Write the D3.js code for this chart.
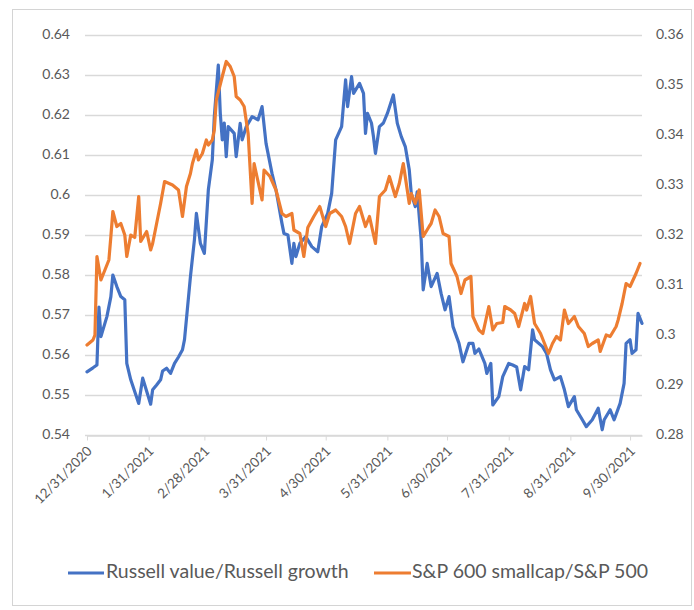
<!DOCTYPE html>
<html>
<head>
<meta charset="utf-8">
<script src="https://cdn.jsdelivr.net/npm/d3@7"></script>
<style>
  body { margin: 0; background: #fff; }
  svg { display: block; font-family: Lato, "Open Sans", "DejaVu Sans", sans-serif; }
</style>
</head>
<body>
<svg id="chart" width="694" height="610"></svg>
<script>
// Russell 1000 value / Russell 1000 growth ratio (left axis)
const russellDates = [
  "2020-12-31","2021-01-03","2021-01-05","2021-01-06","2021-01-07","2021-01-10","2021-01-12","2021-01-13",
  "2021-01-15","2021-01-17","2021-01-19","2021-01-20","2021-01-22","2021-01-26","2021-01-28","2021-02-01",
  "2021-02-02","2021-02-04","2021-02-06","2021-02-07","2021-02-09","2021-02-11","2021-02-13","2021-02-15",
  "2021-02-17","2021-02-18","2021-02-21","2021-02-23","2021-02-24","2021-02-26","2021-02-28","2021-03-02",
  "2021-03-04","2021-03-05","2021-03-07","2021-03-08","2021-03-09","2021-03-10","2021-03-11","2021-03-12",
  "2021-03-15","2021-03-16","2021-03-18","2021-03-19","2021-03-21","2021-03-24","2021-03-27","2021-03-29",
  "2021-03-31","2021-04-03","2021-04-05","2021-04-08","2021-04-09","2021-04-11","2021-04-13","2021-04-14",
  "2021-04-15","2021-04-17","2021-04-20","2021-04-23","2021-04-26","2021-04-28","2021-05-01","2021-05-03",
  "2021-05-05","2021-05-08","2021-05-10","2021-05-11","2021-05-13","2021-05-14","2021-05-17","2021-05-19",
  "2021-05-20","2021-05-21","2021-05-23","2021-05-24","2021-05-25","2021-05-27","2021-05-29","2021-05-31",
  "2021-06-03","2021-06-05","2021-06-07","2021-06-09","2021-06-11","2021-06-12","2021-06-14","2021-06-15",
  "2021-06-17","2021-06-18","2021-06-20","2021-06-22","2021-06-25","2021-06-27","2021-06-29","2021-07-01",
  "2021-07-03","2021-07-06","2021-07-08","2021-07-11","2021-07-13","2021-07-14","2021-07-16","2021-07-19",
  "2021-07-20","2021-07-22","2021-07-23","2021-07-26","2021-07-28","2021-07-31","2021-08-02","2021-08-04",
  "2021-08-06","2021-08-08","2021-08-10","2021-08-12","2021-08-13","2021-08-17","2021-08-19","2021-08-21",
  "2021-08-23","2021-08-26","2021-08-28","2021-08-30","2021-09-02","2021-09-03","2021-09-06","2021-09-08",
  "2021-09-11","2021-09-14","2021-09-16","2021-09-17","2021-09-20","2021-09-22","2021-09-25","2021-09-27",
  "2021-09-28","2021-09-30","2021-10-01","2021-10-03","2021-10-04","2021-10-06"
];
const russellValues = [
  0.5558,0.5568,0.5575,0.5720,0.5646,0.5696,0.5746,0.5800,
  0.5771,0.5746,0.5738,0.5579,0.5538,0.5479,0.5542,0.5477,
  0.5513,0.5525,0.5538,0.5560,0.5567,0.5554,0.5579,0.5595,
  0.5613,0.5638,0.5796,0.5888,0.5954,0.5879,0.5854,0.6013,
  0.6088,0.6196,0.6325,0.6204,0.6138,0.6180,0.6096,0.6171,
  0.6154,0.6096,0.6179,0.6138,0.6170,0.6196,0.6188,0.6221,
  0.6129,0.6054,0.6013,0.5929,0.5904,0.5900,0.5829,0.5879,
  0.5846,0.5879,0.5896,0.5871,0.5858,0.5921,0.5954,0.6004,
  0.6138,0.6171,0.6288,0.6221,0.6296,0.6254,0.6279,0.6254,
  0.6154,0.6204,0.6180,0.6146,0.6104,0.6171,0.6180,0.6204,
  0.6250,0.6179,0.6146,0.6121,0.6063,0.6004,0.5971,0.6008,
  0.5888,0.5763,0.5829,0.5771,0.5804,0.5754,0.5713,0.5746,
  0.5671,0.5629,0.5583,0.5629,0.5629,0.5604,0.5615,0.5579,
  0.5554,0.5579,0.5475,0.5496,0.5546,0.5579,0.5575,0.5570,
  0.5513,0.5571,0.5563,0.5663,0.5638,0.5621,0.5604,0.5563,
  0.5538,0.5546,0.5513,0.5471,0.5496,0.5463,0.5438,0.5421,
  0.5438,0.5467,0.5413,0.5438,0.5463,0.5438,0.5479,0.5529,
  0.5629,0.5638,0.5604,0.5613,0.5704,0.5679
];

// S&P 600 smallcap / S&P 500 ratio (right axis)
const spDates = [
  "2020-12-31","2021-01-03","2021-01-04","2021-01-05","2021-01-07","2021-01-09","2021-01-11","2021-01-12",
  "2021-01-13","2021-01-15","2021-01-17","2021-01-19","2021-01-20","2021-01-22","2021-01-24","2021-01-26",
  "2021-01-27","2021-01-30","2021-02-01","2021-02-02","2021-02-06","2021-02-08","2021-02-12","2021-02-15",
  "2021-02-17","2021-02-19","2021-02-21","2021-02-22","2021-02-24","2021-02-25","2021-02-27","2021-03-01",
  "2021-03-02","2021-03-04","2021-03-05","2021-03-06","2021-03-09","2021-03-11","2021-03-13","2021-03-15",
  "2021-03-16","2021-03-18","2021-03-20","2021-03-22","2021-03-24","2021-03-25","2021-03-29","2021-03-30",
  "2021-04-02","2021-04-05","2021-04-08","2021-04-10","2021-04-13","2021-04-14","2021-04-17","2021-04-19",
  "2021-04-21","2021-04-24","2021-04-27","2021-04-30","2021-05-02","2021-05-05","2021-05-08","2021-05-10",
  "2021-05-12","2021-05-15","2021-05-17","2021-05-20","2021-05-22","2021-05-25","2021-05-27","2021-05-30",
  "2021-06-01","2021-06-04","2021-06-06","2021-06-08","2021-06-11","2021-06-12","2021-06-14","2021-06-16",
  "2021-06-18","2021-06-21","2021-06-22","2021-06-24","2021-06-26","2021-06-28","2021-07-01","2021-07-02",
  "2021-07-05","2021-07-07","2021-07-09","2021-07-12","2021-07-13","2021-07-16","2021-07-18","2021-07-21",
  "2021-07-23","2021-07-25","2021-07-28","2021-07-29","2021-08-01","2021-08-03","2021-08-05","2021-08-08",
  "2021-08-09","2021-08-11","2021-08-13","2021-08-16","2021-08-18","2021-08-20","2021-08-22","2021-08-24",
  "2021-08-26","2021-08-28","2021-08-30","2021-09-02","2021-09-04","2021-09-07","2021-09-09","2021-09-11",
  "2021-09-14","2021-09-15","2021-09-18","2021-09-20","2021-09-23","2021-09-24","2021-09-26","2021-09-28",
  "2021-09-30","2021-10-03","2021-10-05"
];
const spValues = [
  0.2980,0.2990,0.3000,0.3157,0.3110,0.3130,0.3150,0.3197,
  0.3247,0.3217,0.3223,0.3200,0.3157,0.3200,0.3195,0.3277,
  0.3187,0.3207,0.3170,0.3183,0.3263,0.3307,0.3300,0.3290,
  0.3237,0.3297,0.3323,0.3343,0.3370,0.3350,0.3363,0.3390,
  0.3380,0.3390,0.3410,0.3470,0.3517,0.3547,0.3537,0.3517,
  0.3477,0.3470,0.3457,0.3403,0.3263,0.3343,0.3270,0.3330,
  0.3317,0.3290,0.3243,0.3237,0.3243,0.3210,0.3203,0.3157,
  0.3215,0.3237,0.3257,0.3217,0.3243,0.3250,0.3237,0.3217,
  0.3183,0.3243,0.3257,0.3217,0.3237,0.3183,0.3277,0.3290,
  0.3317,0.3277,0.3303,0.3343,0.3263,0.3283,0.3263,0.3290,
  0.3197,0.3217,0.3223,0.3250,0.3237,0.3203,0.3197,0.3143,
  0.3117,0.3083,0.3110,0.3117,0.3037,0.3010,0.3003,0.3057,
  0.3010,0.3023,0.3025,0.3057,0.3050,0.3043,0.3017,0.3063,
  0.3050,0.3077,0.3023,0.3003,0.2983,0.2963,0.2983,0.2997,
  0.2990,0.3050,0.3023,0.3037,0.3017,0.3003,0.2977,0.2983,
  0.2990,0.2967,0.3000,0.2997,0.3017,0.3030,0.3063,0.3103,
  0.3097,0.3123,0.3143
];

const leftTicks = [0.54, 0.55, 0.56, 0.57, 0.58, 0.59, 0.6, 0.61, 0.62, 0.63, 0.64];
const rightTicks = [0.28, 0.29, 0.3, 0.31, 0.32, 0.33, 0.34, 0.35, 0.36];
const monthTicks = ["2020-12-31","2021-01-31","2021-02-28","2021-03-31","2021-04-30",
                    "2021-05-31","2021-06-30","2021-07-31","2021-08-31","2021-09-30"];
const seriesNames = ["Russell value/Russell growth", "S&P 600 smallcap/S&P 500"];
const seriesColors = ["#4472C4", "#ED7D31"];

const parse = d3.utcParse("%Y-%m-%d");
const fmt = d3.utcFormat("%-m/%-d/%Y");

const svg = d3.select("#chart");

// chart frame
svg.append("rect")
  .attr("x", 12.5).attr("y", 9.5).attr("width", 679).attr("height", 596)
  .attr("fill", "#fff").attr("stroke", "#d4d4d4").attr("stroke-width", 1);

const plot = { left: 87, right: 642, top: 35, bottom: 435 };

const x = d3.scaleUtc()
  .domain([parse("2020-12-31"), parse("2021-10-06")])
  .range([plot.left, plot.right]);
const yL = d3.scaleLinear().domain([0.54, 0.64]).range([plot.bottom, plot.top]);
const yR = d3.scaleLinear().domain([0.28, 0.36]).range([plot.bottom, plot.top]);

// horizontal gridlines
svg.append("g").selectAll("line").data(leftTicks).join("line")
  .attr("x1", plot.left - 2).attr("x2", plot.right)
  .attr("y1", d => Math.round(yL(d)) + 0.5).attr("y2", d => Math.round(yL(d)) + 0.5)
  .attr("stroke", "#d9d9d9").attr("stroke-width", 1.5);

// left axis labels
const fmtTick = v => String(+v.toFixed(2));
svg.append("g").selectAll("text").data(leftTicks).join("text")
  .attr("x", 70).attr("y", d => yL(d))
  .attr("text-anchor", "end").attr("dominant-baseline", "middle")
  .attr("font-size", 14).attr("fill", "#595959")
  .text(fmtTick);

// right axis labels
svg.append("g").selectAll("text").data(rightTicks).join("text")
  .attr("x", 656).attr("y", d => yR(d))
  .attr("text-anchor", "start").attr("dominant-baseline", "middle")
  .attr("font-size", 14).attr("fill", "#595959")
  .text(fmtTick);

// date axis
const xAxis = d3.axisBottom(x)
  .tickValues(monthTicks.map(parse))
  .tickSize(5)
  .tickSizeOuter(0)
  .tickFormat(fmt);
const gx = svg.append("g")
  .attr("transform", `translate(0,${plot.bottom + 0.5})`)
  .call(xAxis);
gx.select(".domain").attr("stroke", "#d9d9d9").attr("stroke-width", 1.5);
gx.selectAll(".tick line").attr("stroke", "#d9d9d9");
gx.selectAll(".tick text")
  .attr("font-family", "Lato, 'Open Sans', sans-serif")
  .attr("font-size", 13.5).attr("fill", "#595959")
  .attr("text-anchor", "end")
  .attr("dy", null).attr("y", null)
  .attr("dominant-baseline", "middle")
  .attr("transform", "translate(3,14) rotate(-45)");

// series lines
const series = [
  { dates: russellDates, values: russellValues, y: yL },
  { dates: spDates, values: spValues, y: yR }
];
series.forEach((s, i) => {
  const pts = s.dates.map((d, j) => [parse(d), s.values[j]]);
  const line = d3.line().x(p => x(p[0])).y(p => s.y(p[1])).curve(d3.curveLinear);
  svg.append("path")
    .datum(pts)
    .attr("d", line)
    .attr("fill", "none")
    .attr("stroke", seriesColors[i])
    .attr("stroke-width", 3.2)
    .attr("stroke-linejoin", "round")
    .attr("stroke-linecap", "round");
});

// legend
const legendItems = [
  { x1: 68, x2: 104, tx: 106 },
  { x1: 374, x2: 411, tx: 412 }
];
const lg = svg.append("g");
legendItems.forEach((it, i) => {
  lg.append("line")
    .attr("x1", it.x1).attr("x2", it.x2).attr("y1", 573).attr("y2", 573)
    .attr("stroke", seriesColors[i]).attr("stroke-width", 3.2);
  lg.append("text")
    .attr("x", it.tx).attr("y", 573)
    .attr("dominant-baseline", "middle")
    .attr("font-size", 19.5).attr("fill", "#595959")
    .text(seriesNames[i]);
});
</script>
</body>
</html>
